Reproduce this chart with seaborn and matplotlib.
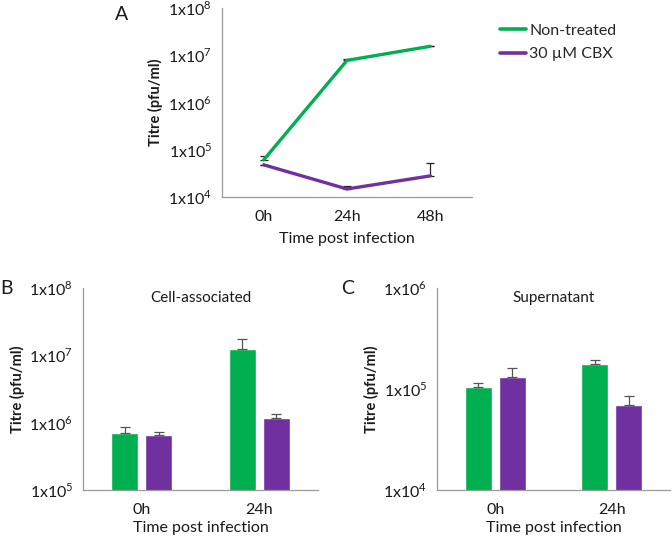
import numpy as np
import pandas as pd
import matplotlib
matplotlib.use("Agg")
import matplotlib.pyplot as plt
import seaborn as sns
from matplotlib.ticker import FixedLocator, FuncFormatter, NullLocator

# Values
groups = ["Non-treated", "30 \u00b5M CBX"]
colors = ["#00B050", "#7030A0"]

# Panel A: time course
time_a = ["0h", "24h", "48h"]
nt_a = [6.1e4, 7.8e6, 1.55e7]
nt_a_err = [1.4e4, 0.6e6, 0.0]
cbx_a = [4.8e4, 1.48e4, 2.8e4]
cbx_a_err = [0.0, 0.25e4, 2.5e4]

# Panel B: cell-associated
time_b = ["0h", "24h"]
nt_b = [7.0e5, 1.25e7]
nt_b_err = [1.6e5, 0.5e7]
cbx_b = [6.6e5, 1.17e6]
cbx_b_err = [0.6e5, 0.18e6]

# Panel C: supernatant
nt_c = [1.05e5, 1.75e5]
nt_c_err = [0.1e5, 0.2e5]
cbx_c = [1.3e5, 6.9e4]
cbx_c_err = [0.3e5, 1.6e4]

sns.set_style("white")
plt.rcParams["font.family"] = ["Lato", "DejaVu Sans"]
plt.rcParams["mathtext.fontset"] = "custom"
plt.rcParams["mathtext.rm"] = "Lato"
spine_col = "#9a9a9a"
text_col = "#1a1a1a"


def sci(v, pos):
    return r"1x10$^{%d}$" % int(round(np.log10(v)))


def style_axes(ax, ymin, ymax, ncat):
    ax.set_yscale("log")
    ax.set_ylim(ymin, ymax)
    ax.set_xlim(-0.5, ncat - 0.5)
    decades = [10.0 ** k for k in range(int(np.log10(ymin)), int(np.log10(ymax)) + 1)]
    ax.yaxis.set_major_locator(FixedLocator(decades))
    ax.yaxis.set_minor_locator(NullLocator())
    ax.yaxis.set_major_formatter(FuncFormatter(sci))
    ax.xaxis.set_major_locator(FixedLocator(range(ncat)))
    ax.xaxis.set_minor_locator(FixedLocator(np.arange(-0.5, ncat, 1.0)))
    ax.tick_params(axis="x", which="major", length=0, labelsize=11.5, pad=9, colors=text_col)
    ax.tick_params(axis="x", which="minor", length=5, width=0.8, color=spine_col, direction="out")
    ax.tick_params(axis="y", which="major", length=4, width=0.8, color=spine_col,
                   labelsize=11.5, labelcolor=text_col, direction="out", pad=3)
    for s in ["top", "right"]:
        ax.spines[s].set_visible(False)
    for s in ["left", "bottom"]:
        ax.spines[s].set_color(spine_col)
        ax.spines[s].set_linewidth(0.9)
    ax.set_xlabel("Time post infection", fontsize=11.5, color=text_col, labelpad=6)
    ax.set_ylabel("Titre (pfu/ml)", fontsize=10.5, fontweight="bold", color=text_col)
    ax.grid(False)


fig = plt.figure(figsize=(6.72, 5.38), dpi=100)
ax_a = fig.add_axes([0.3304, 0.6338, 0.3720, 0.3513])
ax_b = fig.add_axes([0.1235, 0.0892, 0.3497, 0.3755])
ax_c = fig.add_axes([0.6503, 0.0892, 0.3467, 0.3755])

# ---- Panel A ----
df_a = pd.DataFrame({
    "time": time_a * 2,
    "titre": nt_a + cbx_a,
    "group": [groups[0]] * 3 + [groups[1]] * 3,
})
sns.lineplot(data=df_a, x="time", y="titre", hue="group", hue_order=groups,
             palette=colors, linewidth=2.4, ax=ax_a, legend=False, sort=False)
for vals, errs in [(nt_a, nt_a_err), (cbx_a, cbx_a_err)]:
    ax_a.errorbar(time_a, vals, yerr=[np.zeros(len(vals)), errs], fmt="none",
                  ecolor="#222222", elinewidth=0.9, capsize=3, capthick=0.9, zorder=1)
style_axes(ax_a, 1e4, 1e8, len(time_a))
ax_a.yaxis.labelpad = 4
handles = [plt.Line2D([], [], color=c, lw=2.6) for c in colors]
fig.legend(handles, groups, loc="upper left", bbox_to_anchor=(494 / 672, 1 - 17 / 538),
           frameon=False, fontsize=11.5, handlelength=1.6, handletextpad=0.2,
           labelspacing=0.6, borderaxespad=0)


# ---- Panels B and C ----
def bar_panel(ax, nt, nt_err, cbx, cbx_err, ymin, ymax, title):
    df = pd.DataFrame({
        "time": time_b * 2,
        "titre": nt + cbx,
        "group": [groups[0]] * 2 + [groups[1]] * 2,
    })
    sns.barplot(data=df, x="time", y="titre", hue="group", hue_order=groups,
                palette=colors, saturation=1, width=0.58, gap=0.2, ax=ax,
                legend=False, errorbar=None, log_scale=(False, True))
    errs = nt_err + cbx_err
    bars = [p for p in ax.patches if p.get_height() > 0]
    for p, e in zip(bars, errs):
        xc = p.get_x() + p.get_width() / 2
        ax.errorbar(xc, p.get_height(), yerr=[[0], [e]], fmt="none", ecolor="#555555",
                    elinewidth=0.9, capsize=3.5, capthick=0.9)
    style_axes(ax, ymin, ymax, len(time_b))
    ax.set_xlabel("Time post infection", fontsize=11.5, color=text_col, labelpad=3)
    ax.text(0.5, 0.985, title, transform=ax.transAxes, ha="center", va="top",
            fontsize=11, color=text_col)


bar_panel(ax_b, nt_b, nt_b_err, cbx_b, cbx_b_err, 1e5, 1e8, "Cell-associated")
bar_panel(ax_c, nt_c, nt_c_err, cbx_c, cbx_c_err, 1e4, 1e6, "Supernatant")
ax_b.yaxis.labelpad = 3
ax_c.yaxis.labelpad = 3

# panel letters
fig.text(122 / 672, 1 - 14 / 538, "A", fontsize=14, ha="center", va="center", color=text_col)
fig.text(6 / 672, 1 - 288 / 538, "B", fontsize=14, ha="center", va="center", color=text_col)
fig.text(348 / 672, 1 - 288 / 538, "C", fontsize=14, ha="center", va="center", color=text_col)

fig.savefig("out.png", dpi=100)
